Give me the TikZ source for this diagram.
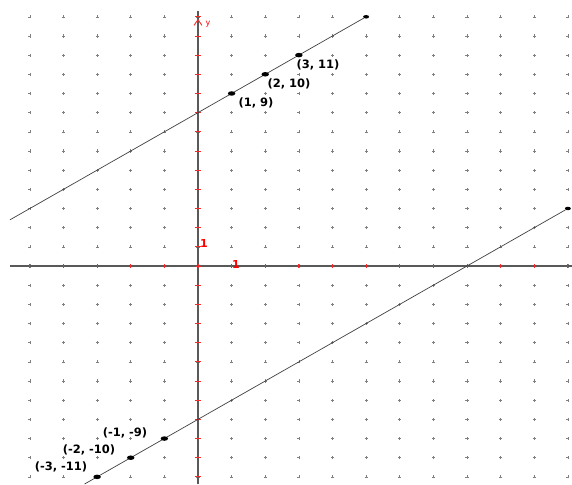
\documentclass[tikz,border=0pt]{standalone}
\usepackage{fontspec}
\setsansfont{DejaVu Sans}
\usetikzlibrary{arrows.meta,positioning,shapes.geometric}

\begin{document}
\begin{tikzpicture}[x=33.625pt,y=19.17pt,gp/.style={gray,line width=.5pt},ax/.style={draw=black!65,line width=1.6pt},tk/.style={draw=red!85,line width=.9pt},ln/.style={draw=black!75,line width=.7pt},pt/.style={ellipse,fill=black,inner sep=0pt,minimum width=7.5pt,minimum height=4.5pt},lbl/.style={font=\sffamily\bfseries\fontsize{11.5}{13}\selectfont,inner sep=0pt},rl/.style={font=\sffamily\bfseries\fontsize{11}{12}\selectfont,text=red,inner sep=0pt}]
\useasboundingbox (-5.888,-11.372) rectangle (11.123,13.876);
% grid of points
\foreach \i in {-5,...,11} \foreach \j in {-11,...,13} \draw[gp] (\i,\j) +(-1.6pt,0) -- +(1.6pt,0) +(0,-1.6pt) -- +(0,1.6pt);
% axes
\coordinate (xl) at (-5.59,0); \coordinate (xr) at (11.123,0);
\coordinate (yb) at (0,-11.372); \coordinate (yt) at (0,13.3);
\draw[ax] (xl)--(xr); \draw[ax] (yb)--(yt);
\foreach \i in {-5,...,11} \draw[tk] (\i,0) +(0,-2pt) -- +(0,2pt);
\foreach \j in {-11,...,13} \draw[tk] (0,\j) +(-3pt,0) -- +(3pt,0);
\draw[red!85,line width=.9pt] (-4pt,12.55) -- (0,12.85) -- (4pt,12.55);
\node[rl,font=\sffamily\fontsize{8}{9}\selectfont] (ylab) at (0.3,12.63) {y};
\node[rl] (one1) at (1.13,0.06) {1};
\node[rl] (one2) at (0.18,1.15) {1};
% upper line y = x + 8
\coordinate (a1) at (-5.59,2.41); \node[pt,minimum width=6pt,minimum height=3.5pt] (e1) at (5,13) {};
\draw[ln] (a1)--(e1);
\node[pt] (p1) at (1,9) {}; \node[pt] (p2) at (2,10) {}; \node[pt] (p3) at (3,11) {};
\node[lbl] (l1) at (1.725,8.50) {(1, 9)};
\node[lbl] (l2) at (2.706,9.49) {(2, 10)};
\node[lbl] (l3) at (3.569,10.49) {(3, 11)};
% lower line y = x - 8
\coordinate (a2) at (-3.372,-11.372); \node[pt,minimum width=6pt,minimum height=3.5pt] (e2) at (11,3) {};
\draw[ln] (a2)--(e2);
\node[pt] (q1) at (-1,-9) {}; \node[pt] (q2) at (-2,-10) {}; \node[pt] (q3) at (-3,-11) {};
\node[lbl] (m1) at (-2.171,-8.69) {(-1, -9)};
\node[lbl] (m2) at (-3.242,-9.60) {(-2, -10)};
\node[lbl] (m3) at (-4.074,-10.49) {(-3, -11)};
\end{tikzpicture}
\end{document}
